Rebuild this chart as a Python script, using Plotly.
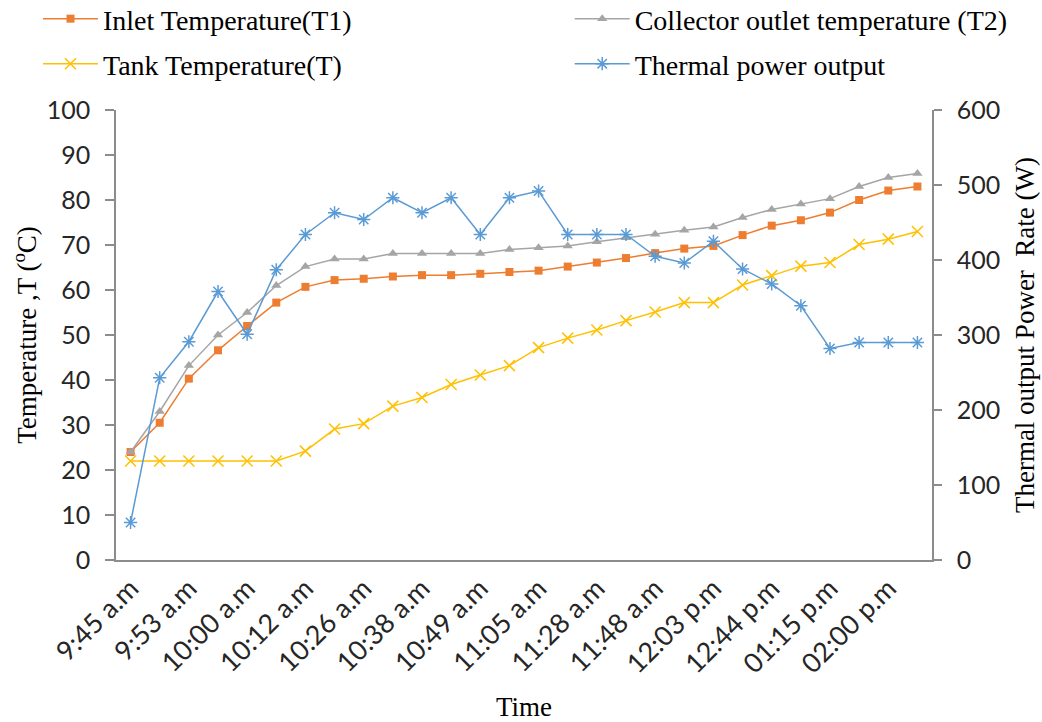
import plotly.graph_objects as go

# ---- data ----
x_pos = list(range(28))
tick_pos = [0, 2, 4, 6, 8, 10, 12, 14, 16, 18, 20, 22, 24, 26]
tick_labels = ["9:45 a.m", "9:53 a.m", "10:00 a.m", "10:12 a.m", "10:26 a.m",
               "10:38 a.m", "10:49 a.m", "11:05 a.m", "11:28 a.m", "11:48 a.m",
               "12:03 p.m", "12:44 p.m", "01:15 p.m", "02:00 p.m"]

inlet_t1 = [24, 30.5, 40.3, 46.6, 52, 57.2, 60.7, 62.2, 62.5, 63, 63.3, 63.3, 63.6, 64,
            64.3, 65.2, 66.1, 67.1, 68.2, 69.2, 69.8, 72.2, 74.3, 75.5, 77.2, 80, 82.1, 83]
outlet_t2 = [24, 33, 43.2, 50, 55, 61, 65.2, 66.9, 66.9, 68.1, 68.1, 68.1, 68.1, 69,
             69.4, 69.8, 70.7, 71.6, 72.4, 73.3, 74, 76.1, 77.9, 79.1, 80.3, 83, 85, 85.9]
tank_t = [22, 22, 22, 22, 22, 22, 24.2, 29.1, 30.3, 34.2, 36.1, 39, 41.1, 43.2,
          47.2, 49.3, 51.1, 53.2, 55.1, 57.2, 57.2, 61.1, 63.2, 65.3, 66.1, 70.1, 71.3, 73]
power_w = [50, 243, 291, 358, 301, 387, 434, 463, 454, 483, 463, 483, 434, 483,
           492, 434, 434, 434, 405, 396, 425, 388, 368, 339, 282, 290, 290, 290]

ORANGE = "#ED7D31"
GRAY = "#A5A5A5"
YELLOW = "#FFC000"
BLUE = "#5B9BD5"

SERIF = "Liberation Serif"
SANS = "Lato"

fig = go.Figure()
fig.add_trace(go.Scatter(
    x=x_pos, y=inlet_t1, name="Inlet Temperature(T1)", mode="lines+markers",
    line=dict(color=ORANGE, width=1.5),
    marker=dict(symbol="square", size=8, color=ORANGE), legend="legend"))
fig.add_trace(go.Scatter(
    x=x_pos, y=outlet_t2, name="Collector outlet temperature (T2)", mode="lines+markers",
    line=dict(color=GRAY, width=1.5),
    marker=dict(symbol="triangle-up", size=9, color=GRAY), legend="legend2"))
fig.add_trace(go.Scatter(
    x=x_pos, y=tank_t, name="Tank Temperature(T)", mode="lines+markers",
    line=dict(color=YELLOW, width=1.5),
    marker=dict(symbol="x-thin-open", size=11, color=YELLOW, line=dict(color=YELLOW, width=1.5)),
    legend="legend3"))
fig.add_trace(go.Scatter(
    x=x_pos, y=power_w, name="Thermal power output", mode="lines+markers", yaxis="y2",
    line=dict(color=BLUE, width=1.5),
    marker=dict(symbol="asterisk-open", size=11, color=BLUE, line=dict(color=BLUE, width=1.5)),
    legend="legend4"))

axis_col = "#8C8C8C"
legend_font = dict(family=SERIF, size=28, color="#000000")


def leg(x, y):
    return dict(x=x, xanchor="left", y=y, yanchor="middle", bgcolor="rgba(0,0,0,0)",
                font=legend_font, itemwidth=55, borderwidth=0)


fig.update_layout(
    width=1042, height=722,
    margin=dict(l=116, r=110, t=110, b=162, autoexpand=False),
    paper_bgcolor="white", plot_bgcolor="white",
    font=dict(family=SANS, size=25, color="#262626"),
    xaxis=dict(
        range=[-0.5, 27.5], tickmode="array", tickvals=tick_pos, ticktext=tick_labels,
        tickangle=-45, showgrid=False, zeroline=False, showline=True,
        linecolor=axis_col, linewidth=1.5, ticks="",
        tickfont=dict(family=SANS, size=27, color="#262626"),
        title=dict(text="Time", font=dict(family=SERIF, size=27, color="#000000"), standoff=28),
    ),
    yaxis=dict(
        range=[0, 100], dtick=10, showgrid=False, zeroline=False, showline=True,
        linecolor=axis_col, linewidth=1.5, ticks="outside", ticklen=9, tickcolor=axis_col,
        tickwidth=1.5, ticklabelstandoff=10,
        tickfont=dict(family=SANS, size=25, color="#262626"),
        title=dict(text="Temperature ,T (<sup>o</sup>C)",
                   font=dict(family=SERIF, size=27, color="#000000"), standoff=2),
    ),
    yaxis2=dict(
        range=[0, 600], dtick=100, overlaying="y", side="right", showgrid=False,
        zeroline=False, showline=True, linecolor=axis_col, linewidth=1.5,
        ticks="outside", ticklen=8, tickcolor=axis_col, tickwidth=1.5, ticklabelstandoff=10,
        tickfont=dict(family=SANS, size=25, color="#262626"),
        title=dict(text="Thermal output Power  Rate (W)",
                   font=dict(family=SERIF, size=27, color="#000000"), standoff=16),
    ),
    legend=leg(-0.0956, 1.2023),
    legend2=leg(0.556, 1.2023),
    legend3=leg(-0.0956, 1.1023),
    legend4=leg(0.556, 1.1023),
    showlegend=True,
)

fig.write_html("out.html", config={"displayModeBar": False},
               post_script="document.body.style.margin='0';document.body.style.padding='0';")
